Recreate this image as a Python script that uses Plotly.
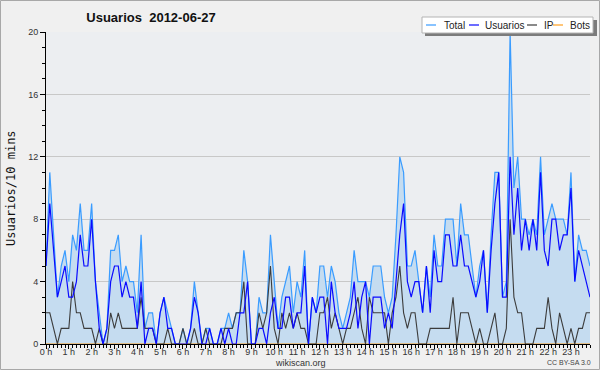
import plotly.graph_objects as go

total = [5, 11, 7, 3, 5, 6, 4, 7, 6, 9, 6, 6, 9, 4, 2, 0, 1, 6, 6, 7, 4, 5, 4, 4,
         2, 7, 1, 2, 2, 0, 2, 3, 2, 1, 0, 0, 1, 0, 1, 4, 2, 0, 1, 1, 0, 0, 1, 1,
         2, 1, 2, 2, 6, 4, 0, 0, 3, 2, 2, 7, 4, 1, 3, 4, 5, 2, 4, 3, 6, 0, 3, 2,
         5, 5, 3, 5, 4, 2, 1, 2, 3, 6, 4, 4, 4, 3, 5, 5, 5, 3, 2, 3, 7, 12, 11, 5,
         5, 6, 4, 2, 5, 3, 7, 5, 5, 8, 8, 8, 5, 9, 7, 7, 5, 3, 5, 6, 2, 7, 11, 11,
         3, 4, 20, 10, 12, 8, 8, 7, 8, 7, 12, 7, 8, 9, 8, 8, 8, 7, 11, 4, 7, 6, 6, 5]
usuarios = [5, 9, 6, 3, 4, 5, 3, 3, 4, 7, 5, 5, 8, 4, 1, 0, 1, 4, 5, 5, 3, 4, 3, 3,
            1, 4, 0, 1, 1, 0, 2, 3, 1, 1, 0, 0, 0, 0, 1, 3, 2, 0, 0, 1, 0, 0, 1, 0,
            1, 0, 0, 2, 2, 4, 0, 0, 1, 1, 0, 2, 3, 1, 1, 3, 3, 1, 2, 2, 5, 0, 3, 2,
            3, 3, 0, 4, 2, 1, 1, 1, 2, 4, 1, 3, 4, 0, 3, 3, 3, 1, 2, 1, 4, 7, 9, 4,
            3, 4, 4, 2, 5, 2, 6, 4, 4, 7, 7, 5, 5, 7, 5, 5, 4, 3, 4, 6, 2, 6, 9, 11,
            3, 3, 12, 7, 10, 6, 8, 6, 8, 6, 11, 6, 5, 8, 8, 6, 7, 7, 10, 4, 6, 5, 4, 3]
ip = [2, 2, 1, 0, 1, 1, 1, 4, 2, 2, 1, 1, 1, 0, 1, 0, 0, 2, 1, 2, 1, 1, 1, 1,
      1, 3, 1, 1, 1, 0, 0, 0, 1, 0, 0, 0, 1, 0, 0, 1, 0, 0, 1, 0, 0, 0, 0, 1,
      1, 1, 2, 2, 4, 0, 0, 0, 2, 1, 2, 5, 1, 0, 2, 1, 2, 1, 2, 1, 1, 0, 0, 0,
      2, 2, 3, 1, 2, 1, 0, 1, 1, 2, 3, 1, 0, 3, 2, 2, 2, 2, 0, 2, 3, 5, 2, 1,
      2, 2, 0, 0, 0, 1, 1, 1, 1, 1, 1, 3, 0, 2, 2, 2, 1, 0, 1, 0, 0, 1, 2, 0,
      0, 1, 8, 3, 2, 2, 0, 0, 0, 1, 1, 1, 3, 1, 0, 2, 1, 0, 1, 0, 1, 1, 2, 2]
bots = [0] * 144
slots = list(range(144))
hour_ticks = [0, 6, 12, 18, 24, 30, 36, 42, 48, 54, 60, 66, 72, 78, 84, 90,
              96, 102, 108, 114, 120, 126, 132, 138]
hour_labels = ["0 h", "1 h", "2 h", "3 h", "4 h", "5 h", "6 h", "7 h", "8 h",
               "9 h", "10 h", "11 h", "12 h", "13 h", "14 h", "15 h", "16 h",
               "17 h", "18 h", "19 h", "20 h", "21 h", "22 h", "23 h"]

C_TOTAL = "#3a9cff"
C_USU = "#0a0aff"
C_IP = "#3c3c3c"
C_BOTS = "#ffa020"
SANS = "Liberation Sans"

L, T, W, H = 46, 32, 544, 312


def px(x):
    return (x - L) / W


def py(y):
    return (T + H - y) / H


fig = go.Figure()
fig.add_trace(go.Scatter(x=slots, y=total, mode="lines", fill="tozeroy",
                         fillcolor="rgb(197,220,240)",
                         line=dict(color=C_TOTAL, width=1.2), name="Total"))
fig.add_trace(go.Scatter(x=slots, y=bots, mode="lines",
                         line=dict(color=C_BOTS, width=1), name="Bots"))
fig.add_trace(go.Scatter(x=slots, y=ip, mode="lines",
                         line=dict(color=C_IP, width=1.1), name="IP"))
fig.add_trace(go.Scatter(x=slots, y=usuarios, mode="lines",
                         line=dict(color=C_USU, width=1.2), name="Usuarios"))

shapes = []
shapes.append(dict(type="rect", xref="paper", yref="paper",
                   x0=px(0.5), x1=px(599.5), y0=py(369.5), y1=py(0.5),
                   line=dict(color="#a8a8a8", width=1), fillcolor="rgba(0,0,0,0)",
                   layer="below"))
shapes.append(dict(type="rect", xref="paper", yref="paper",
                   x0=px(425), x1=px(597), y0=py(36), y1=py(20),
                   line=dict(width=0), fillcolor="#7c7c7c", layer="above"))
shapes.append(dict(type="rect", xref="paper", yref="paper",
                   x0=px(422), x1=px(593), y0=py(33), y1=py(17),
                   line=dict(color="#b4b4b4", width=1), fillcolor="#ffffff",
                   layer="above"))
leg = [("Total", C_TOTAL, 426, 442), ("Usuarios", C_USU, 469, 483),
       ("IP", C_IP, 527, 542), ("Bots", C_BOTS, 553, 568)]
annotations = []
for name, col, lx, tx in leg:
    shapes.append(dict(type="line", xref="paper", yref="paper",
                       x0=px(lx), x1=px(lx + 10), y0=py(25), y1=py(25),
                       line=dict(color=col, width=1.2), layer="above"))
    annotations.append(dict(text=name, xref="paper", yref="paper",
                            x=px(tx), y=py(25), xanchor="left", yanchor="middle",
                            showarrow=False,
                            font=dict(family=SANS, size=10, color="#222")))

annotations.append(dict(text="Usuarios/10 mins", xref="paper", yref="paper",
                        x=px(11), y=py(188), xanchor="center", yanchor="middle",
                        textangle=-90, showarrow=False,
                        font=dict(family="DejaVu Sans Mono", size=12, color="#111")))
annotations.append(dict(text="wikiscan.org", xref="paper", yref="paper",
                        x=px(300), y=py(362.5), xanchor="center", yanchor="middle",
                        showarrow=False,
                        font=dict(family=SANS, size=9, color="#333")))
annotations.append(dict(text="CC BY-SA 3.0", xref="paper", yref="paper",
                        x=px(569), y=py(362.5), xanchor="center", yanchor="middle",
                        showarrow=False,
                        font=dict(family=SANS, size=7, color="#444")))

fig.update_layout(
    width=600, height=370, autosize=False,
    margin=dict(l=L, r=600 - L - W, t=T, b=370 - T - H, pad=0, autoexpand=False),
    paper_bgcolor="#f0f0f0", plot_bgcolor="#eceef1",
    showlegend=False,
    title=dict(text="Usuarios\u00a0 2012-06-27", x=151 / 600, xanchor="center",
               y=1 - 17 / 370, yanchor="middle", automargin=False,
               font=dict(family=SANS, size=13, color="#111", weight="bold")),
    shapes=shapes, annotations=annotations,
)
fig.update_xaxes(range=[0, 143], tickvals=hour_ticks, ticktext=hour_labels,
                 ticks="outside", ticklen=4, tickcolor="#000", tickwidth=1,
                 showline=True, linecolor="#000", linewidth=1, showgrid=False,
                 zeroline=False, automargin=False, ticklabelstandoff=-5,
                 tickangle=0,
                 minor=dict(dtick=1, tick0=0, ticks="outside", ticklen=3,
                            tickcolor="#000", showgrid=False),
                 tickfont=dict(family=SANS, size=9, color="#333"))
fig.update_yaxes(range=[0, 20], dtick=4, tick0=0, ticks="outside", ticklen=5,
                 tickcolor="#000", showline=True, linecolor="#000", linewidth=1,
                 showgrid=True, gridcolor="#c8c8c8", gridwidth=1, zeroline=False,
                 automargin=False,
                 minor=dict(dtick=1, ticks="outside", ticklen=3, tickcolor="#000",
                            showgrid=False),
                 tickfont=dict(family=SANS, size=9, color="#333"))

fig.write_html("out.html", config={"displayModeBar": False},
               post_script="document.body.style.margin='0';"
                           "document.body.style.padding='0';")
